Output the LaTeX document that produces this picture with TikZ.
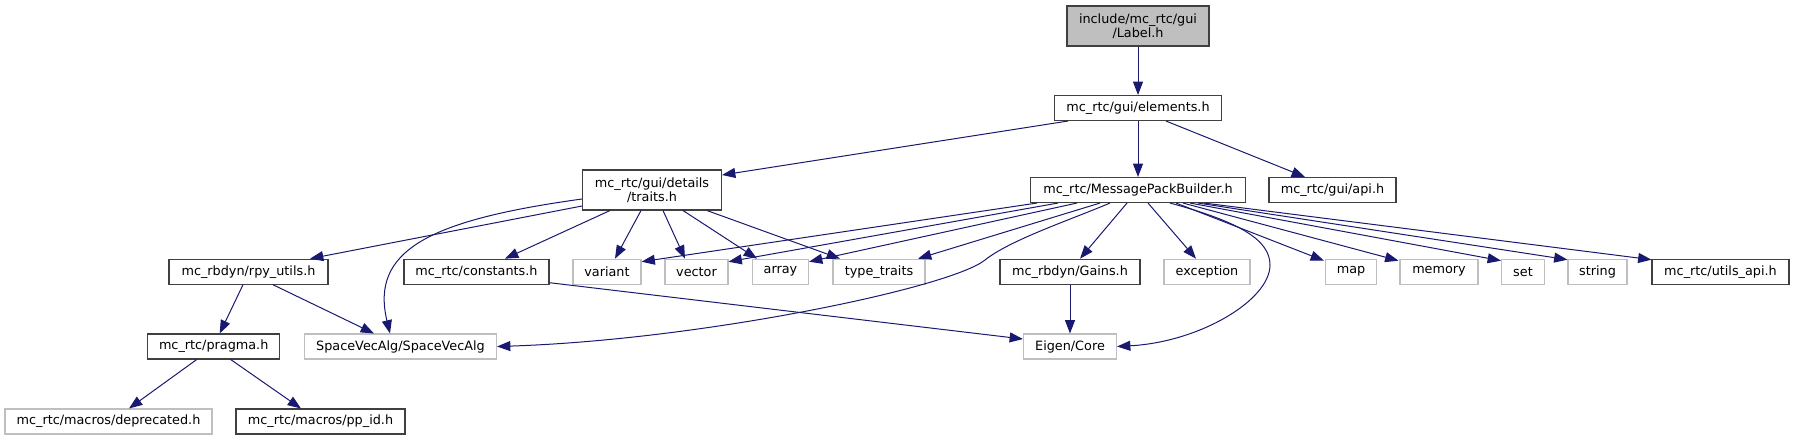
\documentclass[tikz,border=0pt]{standalone}
\usepackage{fontspec}
\setmainfont{DejaVu Sans}
\usetikzlibrary{arrows.meta}
\newdimen\pxu \pxu=0.75pt
\definecolor{edgeblue}{HTML}{191970}
\definecolor{greyborder}{HTML}{BFBFBF}
\definecolor{darkborder}{HTML}{404040}
\definecolor{rootfill}{HTML}{BFBFBF}
\begin{document}
\begin{tikzpicture}[x=0.75pt,y=-0.75pt,
  every node/.style={font=\fontsize{9.6}{10.8}\selectfont, inner sep=0pt, text=black},
  hbox/.style={draw=darkborder, line width=0.8pt, fill=white, minimum height=25\pxu},
  gbox/.style={draw=greyborder, line width=0.8pt, fill=white, minimum height=25\pxu},
  dep/.style={draw=edgeblue, line width=0.75pt, -{Triangle[length=10pt,width=7.5pt]}}]
\useasboundingbox (0,0) rectangle (1795,440);
% row 1-3
\node[hbox, fill=rootfill, minimum width=142\pxu, minimum height=40\pxu, align=center] (label) at (1138,26) {include/mc\_rtc/gui\\/Label.h};
\node[hbox, minimum width=167\pxu] (elements) at (1138,108) {mc\_rtc/gui/elements.h};
\node[hbox, minimum width=139\pxu, minimum height=40\pxu, align=center] (traits) at (652,190) {mc\_rtc/gui/details\\/traits.h};
\node[hbox, minimum width=215\pxu] (mpb) at (1138,190) {mc\_rtc/MessagePackBuilder.h};
\node[hbox, minimum width=127\pxu] (api) at (1332.5,190) {mc\_rtc/gui/api.h};
% row 4
\node[hbox, minimum width=159\pxu] (rpy) at (248.5,271.7) {mc\_rbdyn/rpy\_utils.h};
\node[hbox, minimum width=145\pxu] (constants) at (476.5,271.7) {mc\_rtc/constants.h};
\node[gbox, minimum width=68\pxu] (variant) at (607,271.7) {variant};
\node[gbox, minimum width=63\pxu] (vector) at (696.5,271.7) {vector};
\node[gbox, minimum width=56\pxu] (array) at (780.5,271.7) {array};
\node[gbox, minimum width=92\pxu] (typetraits) at (879,271.7) {type\_traits};
\node[hbox, minimum width=140\pxu] (gains) at (1070,271.7) {mc\_rbdyn/Gains.h};
\node[gbox, minimum width=86\pxu] (exception) at (1207,271.7) {exception};
\node[gbox, minimum width=51\pxu] (map) at (1351,271.7) {map};
\node[gbox, minimum width=78\pxu] (memory) at (1439,271.7) {memory};
\node[gbox, minimum width=43\pxu] (set) at (1523,271.7) {set};
\node[gbox, minimum width=59\pxu] (string) at (1597.5,271.7) {string};
\node[hbox, minimum width=137\pxu] (utils) at (1720.5,271.7) {mc\_rtc/utils\_api.h};
% row 5
\node[hbox, minimum width=132\pxu] (pragma) at (213.7,346.5) {mc\_rtc/pragma.h};
\node[gbox, minimum width=192\pxu] (sva) at (400.5,346.5) {SpaceVecAlg/SpaceVecAlg};
\node[gbox, minimum width=93\pxu] (eigen) at (1070,346.5) {Eigen/Core};
% row 6
\node[gbox, minimum width=207\pxu] (deprecated) at (108.5,421.5) {mc\_rtc/macros/deprecated.h};
\node[hbox, minimum width=169\pxu] (ppid) at (320.5,421.5) {mc\_rtc/macros/pp\_id.h};
% edges
\draw[dep] (label) -- (elements);
\draw[dep] ([xshift=-70\pxu]elements.south) -- ([yshift=15\pxu]traits.east);
\draw[dep] (elements) -- (mpb);
\draw[dep] ([xshift=28\pxu]elements.south) -- ([xshift=-27.5\pxu]api.north);
% traits
\draw[dep] ([yshift=-16\pxu]traits.west) -- ([xshift=61.5\pxu]rpy.north);
\draw[dep] ([yshift=-9\pxu]traits.west) .. controls (430,220) and (370,250) .. ([xshift=-10.5\pxu]sva.north);
\draw[dep] ([xshift=-42\pxu]traits.south) -- ([xshift=28.5\pxu]constants.north);
\draw[dep] ([xshift=-11\pxu]traits.south) -- ([xshift=8\pxu]variant.north);
\draw[dep] ([xshift=11\pxu]traits.south) -- ([xshift=-11.5\pxu]vector.north);
\draw[dep] ([xshift=31\pxu]traits.south) -- ([xshift=-23.5\pxu]array.north);
\draw[dep] ([xshift=55\pxu]traits.south) -- ([xshift=-39\pxu]typetraits.north);
% MessagePackBuilder
\draw[dep] ([xshift=-101\pxu]mpb.south) -- ([yshift=10\pxu]variant.east);
\draw[dep] ([xshift=-80\pxu]mpb.south) -- ([yshift=10\pxu]vector.east);
\draw[dep] ([xshift=-61\pxu]mpb.south) -- ([yshift=10\pxu]array.east);
\draw[dep] ([xshift=-38\pxu]mpb.south) -- ([xshift=39\pxu]typetraits.north);
\draw[dep] ([xshift=-28\pxu]mpb.south) .. controls (1070,220) and (1010,240) .. (985,260) .. controls (950,288) and (700,340) .. (sva.east);
\draw[dep] ([xshift=-11\pxu]mpb.south) -- ([xshift=10\pxu]gains.north);
\draw[dep] ([xshift=10\pxu]mpb.south) -- ([xshift=-11\pxu]exception.north);
\draw[dep] ([xshift=32\pxu]mpb.south) .. controls (1240,222) and (1270,240) .. (1270,265) .. controls (1270,300) and (1200,342) .. (eigen.east);
\draw[dep] ([xshift=38\pxu]mpb.south) -- ([xshift=-1\pxu,yshift=-2\pxu]map.north west);
\draw[dep] ([xshift=45\pxu]mpb.south) -- ([xshift=-1\pxu,yshift=-2\pxu]memory.north west);
\draw[dep] ([xshift=52\pxu]mpb.south) -- ([yshift=-2\pxu]set.north west);
\draw[dep] ([xshift=60\pxu]mpb.south) -- ([yshift=-1\pxu]string.north west);
\draw[dep] ([xshift=66\pxu]mpb.south) -- ([yshift=-1\pxu]utils.north west);
% others
\draw[dep] ([yshift=-11\pxu]constants.east) -- ([yshift=7.5\pxu]eigen.west);
\draw[dep] (gains) -- (eigen);
\draw[dep] ([xshift=-5.5\pxu]rpy.south) -- ([xshift=6\pxu]pragma.north);
\draw[dep] ([xshift=24.5\pxu]rpy.south) -- ([xshift=-26.5\pxu]sva.north);
\draw[dep] ([xshift=-17\pxu]pragma.south) -- ([xshift=20.5\pxu]deprecated.north);
\draw[dep] ([xshift=17\pxu]pragma.south) -- ([xshift=-19.5\pxu]ppid.north);
\end{tikzpicture}
\end{document}
